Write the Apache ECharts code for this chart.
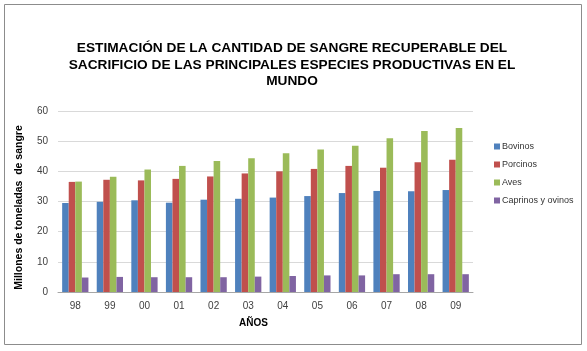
<!DOCTYPE html>
<html>
<head>
<meta charset="utf-8">
<script src="https://cdn.jsdelivr.net/npm/echarts@6/dist/echarts.min.js"></script>
<style>
  html, body { margin: 0; padding: 0; background: #fff; }
  #chart { width: 587px; height: 351px; }
</style>
</head>
<body>
<div id="chart"></div>
<script>
// años del eje X
const years = ['98', '99', '00', '01', '02', '03', '04', '05', '06', '07', '08', '09']
// millones de toneladas de sangre por especie
const bovinos = [29.5, 29.9, 30.4, 29.6, 30.6, 30.9, 31.3, 31.8, 32.8, 33.5, 33.4, 33.8]
const porcinos = [36.5, 37.2, 37.0, 37.5, 38.3, 39.3, 40.0, 40.8, 41.8, 41.2, 43.0, 43.8]
const aves = [36.6, 38.2, 40.6, 41.8, 43.4, 44.3, 46.0, 47.2, 48.5, 51.0, 53.4, 54.4]
const caprinos = [4.8, 5.0, 4.9, 4.9, 4.9, 5.1, 5.3, 5.5, 5.5, 5.9, 5.9, 5.9]

const chart = echarts.init(document.getElementById('chart'))

function serie(name, data, color) {
  return {
    name: name,
    type: 'bar',
    data: data,
    barGap: '0%',
    barCategoryGap: '24%',
    itemStyle: { color: color },
    animation: false
  }
}

chart.setOption({
  textStyle: { fontFamily: 'Liberation Sans, Arial, sans-serif' },
  graphic: [{
    type: 'rect',
    shape: { x: 4.5, y: 4.5, width: 577, height: 340 },
    style: { fill: 'none', stroke: '#8c8c8c', lineWidth: 1 },
    silent: true
  }],
  title: {
    text: 'ESTIMACIÓN DE LA CANTIDAD DE SANGRE RECUPERABLE DEL\nSACRIFICIO DE LAS PRINCIPALES ESPECIES PRODUCTIVAS EN EL\nMUNDO',
    left: 287,
    top: 35,
    textAlign: 'center',
    textStyle: {
      fontSize: 13.7,
      fontWeight: 'bold',
      color: '#000',
      lineHeight: 16.5,
      align: 'center'
    }
  },
  legend: {
    orient: 'vertical',
    left: 489,
    top: 137,
    icon: 'rect',
    itemWidth: 6,
    itemHeight: 6,
    itemGap: 9,
    textStyle: { fontSize: 9, color: '#333', padding: [0, 0, 0, -3] },
    data: ['Bovinos', 'Porcinos', 'Aves', 'Caprinos y ovinos']
  },
  grid: { left: 58, right: 114, top: 111, bottom: 59 },
  xAxis: {
    type: 'category',
    data: years,
    name: 'AÑOS',
    nameLocation: 'middle',
    nameGap: 26,
    nameTextStyle: { fontSize: 10, fontWeight: 'bold', color: '#000', padding: [0, 24, 0, 0] },
    axisLine: { lineStyle: { color: '#a6a6a6' } },
    axisTick: { show: false },
    axisLabel: { fontSize: 10, color: '#404040', margin: 9 }
  },
  yAxis: {
    type: 'value',
    min: 0,
    max: 60,
    interval: 10,
    name: 'Millones de toneladas  de sangre',
    nameLocation: 'middle',
    nameGap: 33,
    nameTextStyle: { fontSize: 10.5, fontWeight: 'bold', color: '#000', padding: [0, 12, 0, 0] },
    axisLine: { show: false },
    axisTick: { show: false },
    axisLabel: { fontSize: 10, color: '#404040', margin: 10 },
    splitLine: { lineStyle: { color: '#d9d9d9' } }
  },
  series: [
    serie('Bovinos', bovinos, '#4f81bd'),
    serie('Porcinos', porcinos, '#c0504d'),
    serie('Aves', aves, '#9bbb59'),
    serie('Caprinos y ovinos', caprinos, '#8064a2')
  ]
})
</script>
</body>
</html>
